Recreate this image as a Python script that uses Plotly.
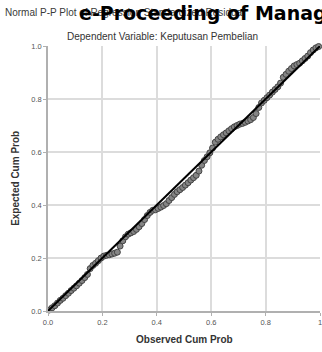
import plotly.graph_objects as go

observed = [0.005,0.015,0.025,0.035,0.045,0.055,0.065,0.075,0.085,0.095,
            0.105,0.115,0.125,0.135,0.145,0.155,0.165,0.175,0.185,0.195,
            0.205,0.215,0.225,0.235,0.245,0.255,0.265,0.275,0.285,0.295,
            0.305,0.315,0.325,0.335,0.345,0.355,0.365,0.375,0.385,0.395,
            0.405,0.415,0.425,0.435,0.445,0.455,0.465,0.475,0.485,0.495,
            0.505,0.515,0.525,0.535,0.545,0.555,0.565,0.575,0.585,0.595,
            0.605,0.615,0.625,0.635,0.645,0.655,0.665,0.675,0.685,0.695,
            0.705,0.715,0.725,0.735,0.745,0.755,0.765,0.775,0.785,0.795,
            0.805,0.815,0.825,0.835,0.845,0.855,0.865,0.875,0.885,0.895,
            0.905,0.915,0.925,0.935,0.945,0.955,0.965,0.975,0.985,0.995]
expected = [0.004,0.012,0.020,0.030,0.040,0.048,0.058,0.067,0.077,0.086,
            0.095,0.105,0.115,0.126,0.138,0.160,0.172,0.180,0.190,0.200,
            0.207,0.210,0.212,0.215,0.218,0.222,0.245,0.265,0.280,0.290,
            0.295,0.300,0.308,0.318,0.330,0.345,0.360,0.372,0.380,0.382,
            0.387,0.392,0.398,0.405,0.417,0.428,0.440,0.450,0.458,0.466,
            0.475,0.484,0.494,0.503,0.512,0.528,0.550,0.568,0.582,0.597,
            0.615,0.637,0.648,0.657,0.665,0.672,0.680,0.688,0.695,0.700,
            0.705,0.708,0.712,0.717,0.722,0.730,0.745,0.768,0.785,0.795,
            0.805,0.815,0.826,0.836,0.846,0.860,0.882,0.893,0.905,0.915,
            0.925,0.930,0.935,0.944,0.953,0.962,0.975,0.985,0.993,0.998]
diag_x = [0.0, 1.0]
diag_y = [0.0, 1.0]
tick_vals = [0.0, 0.2, 0.4, 0.6, 0.8, 1.0]
x_tick_text = ["0.0", "0.2", "0.4", "0.6", "0.8", "1"]
y_tick_text = ["0.0", "0.2", "0.4", "0.6", "0.8", "1.0"]

fig = go.Figure()
fig.add_trace(go.Scatter(x=observed, y=expected, mode="markers",
                         marker=dict(size=6, color="#858585",
                                     line=dict(color="#444444", width=1)),
                         cliponaxis=False, showlegend=False))
fig.add_trace(go.Scatter(x=diag_x, y=diag_y, mode="lines",
                         line=dict(color="black", width=2),
                         cliponaxis=False, showlegend=False))

axis_common = dict(range=[0, 1], tickvals=tick_vals, showgrid=True,
                   gridcolor="#dcdcdc", gridwidth=1.5, zeroline=False,
                   showline=True, linecolor="#b0b0b0", linewidth=1.5,
                   ticks="outside", ticklen=3, tickcolor="#b0b0b0",
                   ticklabeloverflow="allow",
                   tickfont=dict(family="Arial, Liberation Sans", size=7.5, color="#555555"))
fig.update_xaxes(ticktext=x_tick_text, **axis_common)
fig.update_yaxes(ticktext=y_tick_text, **axis_common)

fig.update_layout(
    width=322, height=352,
    margin=dict(l=48, r=0, t=46, b=41),
    plot_bgcolor="white", paper_bgcolor="white",
    annotations=[
        dict(text="Normal P-P Plot of Regression Standardized Residual",
             xref="paper", yref="paper", x=-0.165, y=1.125, xanchor="left", yanchor="middle",
             showarrow=False, font=dict(family="Arial, Liberation Sans", size=10, color="#3a3a3a")),
        dict(text="<b>e-Proceeding of Management</b>",
             xref="paper", yref="paper", x=0.105, y=1.125, xanchor="left", yanchor="middle",
             showarrow=False, font=dict(family="DejaVu Sans", size=19, color="black")),
        dict(text="Dependent Variable: Keputusan Pembelian",
             xref="paper", yref="paper", x=0.42, y=1.037, xanchor="center", yanchor="middle",
             showarrow=False, font=dict(family="Arial, Liberation Sans", size=10, color="#333")),
        dict(text="<b>Expected Cum Prob</b>",
             xref="paper", yref="paper", x=-0.12, y=0.5, xanchor="center", yanchor="middle",
             textangle=-90, showarrow=False,
             font=dict(family="Arial, Liberation Sans", size=10, color="#333")),
        dict(text="<b>Observed Cum Prob</b>",
             xref="paper", yref="paper", x=0.5, y=-0.108, xanchor="center", yanchor="middle",
             showarrow=False, font=dict(family="Arial, Liberation Sans", size=10, color="#333")),
    ],
)
fig.write_html("out.html", config={"displayModeBar": False},
               post_script="document.body.style.margin='0';")
